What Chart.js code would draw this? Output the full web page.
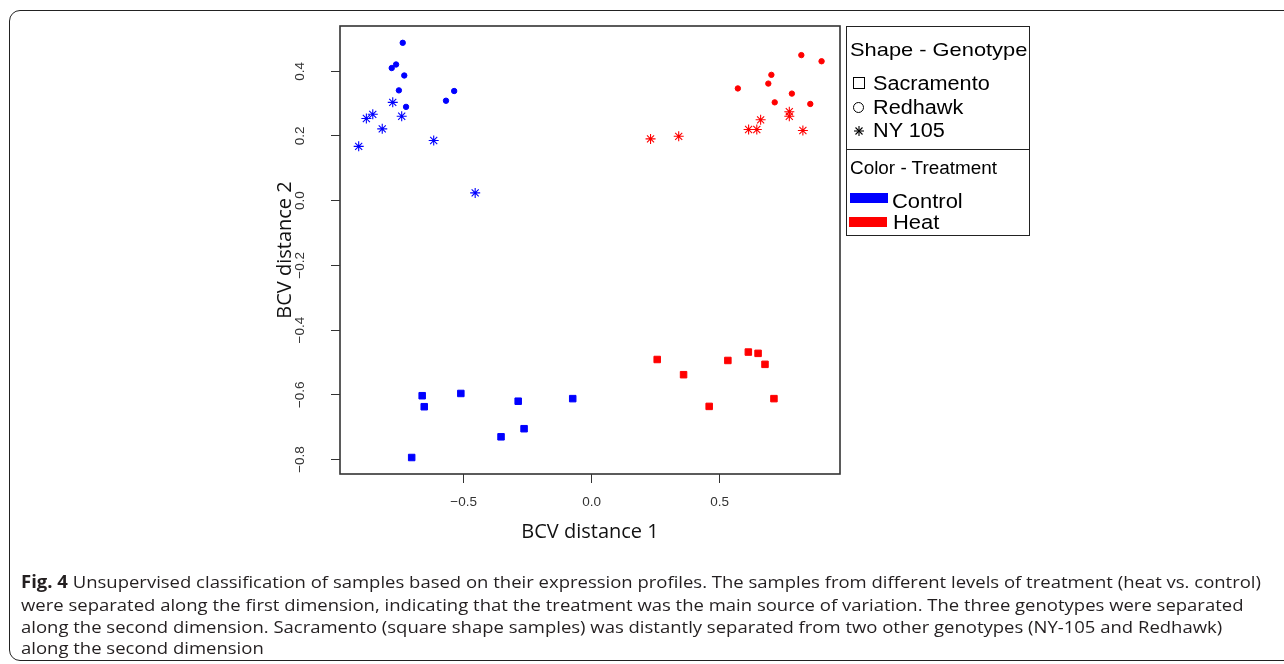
<!DOCTYPE html>
<html><head><meta charset="utf-8">
<script src="https://cdn.jsdelivr.net/npm/chart.js@4.4.1/dist/chart.umd.min.js"></script>
<style>
html,body{margin:0;padding:0;background:#fff;width:1284px;height:664px;overflow:hidden;position:relative;}
#frame{position:absolute;left:9px;top:10px;width:1300px;height:651px;border:1.6px solid #222;border-radius:11px;box-sizing:border-box;}
#c{position:absolute;left:0;top:0;}
.lg{position:absolute;font-family:'Liberation Sans',Arial,sans-serif;color:#000;white-space:nowrap;line-height:1;transform-origin:0 50%;}
#lbox{position:absolute;left:846px;top:26px;width:184px;height:210px;border:1.5px solid #222;box-sizing:border-box;}
#ldiv{position:absolute;left:846px;top:148.5px;width:184px;height:0;border-top:1.5px solid #222;}
.cap{position:absolute;left:21px;font-family:'Open Sans',sans-serif;font-size:17px;color:#231f20;white-space:nowrap;line-height:1;transform-origin:0 50%;}
</style>
</head>
<body>
<div id="frame"></div>
<canvas id="c" width="1284" height="664"></canvas>

<div id="lbox"></div>
<div id="ldiv"></div>
<div class="lg" style="left:850px;top:39.5px;font-size:19px;transform:scaleX(1.15)">Shape - Genotype</div>
<div style="position:absolute;left:852.5px;top:76.5px;width:12px;height:12px;border:1.3px solid #000;box-sizing:border-box"></div>
<div class="lg" style="left:873px;top:74px;font-size:19.5px;transform:scaleX(1.11)">Sacramento</div>
<div style="position:absolute;left:852.5px;top:102px;width:11px;height:11px;border:1.3px solid #000;border-radius:50%;box-sizing:border-box"></div>
<div class="lg" style="left:873px;top:97.5px;font-size:19.5px;transform:scaleX(1.11)">Redhawk</div>
<svg style="position:absolute;left:852.5px;top:125px" width="12" height="12" viewBox="0 0 12 12"><g stroke="#000" stroke-width="1.1"><line x1="6" y1="1" x2="6" y2="11"/><line x1="1" y1="6" x2="11" y2="6"/><line x1="2.5" y1="2.5" x2="9.5" y2="9.5"/><line x1="2.5" y1="9.5" x2="9.5" y2="2.5"/></g></svg>
<div class="lg" style="left:873px;top:121px;font-size:19.5px;transform:scaleX(1.11)">NY 105</div>
<div class="lg" style="left:850px;top:158.5px;font-size:18px;transform:scaleX(1.05)">Color - Treatment</div>
<div style="position:absolute;left:850px;top:193px;width:38px;height:10px;background:#0000ff"></div>
<div class="lg" style="left:892px;top:190.5px;font-size:20.5px;transform:scaleX(1.07)">Control</div>
<div style="position:absolute;left:849px;top:217px;width:38px;height:10px;background:#ff0000"></div>
<div class="lg" style="left:893px;top:211.5px;font-size:20.5px;transform:scaleX(1.07)">Heat</div>

<div class="cap" id="l1" style="top:573px"><b>Fig. 4</b> Unsupervised classification of samples based on their expression profiles. The samples from different levels of treatment (heat vs. control)</div>
<div class="cap" id="l2" style="top:596px">were separated along the first dimension, indicating that the treatment was the main source of variation. The three genotypes were separated</div>
<div class="cap" id="l3" style="top:618px">along the second dimension. Sacramento (square shape samples) was distantly separated from two other genotypes (NY-105 and Redhawk)</div>
<div class="cap" id="l4" style="top:639px">along the second dimension</div>

<script>
// ---- data ----
const sacramentoControl = [[-0.662,-0.603],[-0.654,-0.637],[-0.511,-0.596],[-0.287,-0.620],[-0.074,-0.612],[-0.264,-0.705],[-0.354,-0.730],[-0.703,-0.794]];
const redhawkControl = [[-0.738,0.488],[-0.764,0.421],[-0.781,0.410],[-0.732,0.387],[-0.753,0.341],[-0.537,0.339],[-0.569,0.309],[-0.725,0.290]];
const ny105Control = [[-0.777,0.304],[-0.855,0.267],[-0.880,0.254],[-0.742,0.261],[-0.818,0.222],[-0.910,0.168],[-0.617,0.186],[-0.455,0.024]];
const sacramentoHeat = [[0.256,-0.491],[0.359,-0.538],[0.459,-0.636],[0.532,-0.494],[0.612,-0.468],[0.650,-0.472],[0.677,-0.506],[0.712,-0.612]];
const redhawkHeat = [[0.819,0.450],[0.898,0.431],[0.702,0.389],[0.690,0.362],[0.571,0.347],[0.782,0.331],[0.715,0.304],[0.854,0.299]];
const ny105Heat = [[0.772,0.275],[0.772,0.261],[0.660,0.250],[0.613,0.220],[0.645,0.220],[0.825,0.217],[0.230,0.191],[0.340,0.199]];

const xRange = [-0.983, 0.970];
const yRange = [-0.845, 0.540];
const xTicks = [-0.5, 0, 0.5];
const xTickLabels = ['\u22120.5', '0.0', '0.5'];
const yTicks = [-0.8, -0.6, -0.4, -0.2, 0, 0.2, 0.4];
const yTickLabels = ['\u22120.8', '\u22120.6', '\u22120.4', '\u22120.2', '0.0', '0.2', '0.4'];
const xTitle = 'BCV distance 1';
const yTitle = 'BCV distance 2';

const CONTROL = '#0000ff', HEAT = '#ff0000';
const toPts = a => a.map(([x, y]) => ({x, y}));
function ds(label, data, color, style, r, bw) {
  return {label, data: toPts(data), pointStyle: style, pointRadius: r, pointBackgroundColor: color,
          pointBorderColor: color, pointBorderWidth: bw, showLine: false};
}

const boxPlugin = {
  id: 'plotBox',
  afterDraw(chart) {
    const {ctx, chartArea: a} = chart;
    ctx.save();
    ctx.strokeStyle = '#333';
    ctx.lineWidth = 1.6;
    ctx.strokeRect(a.left, a.top, a.right - a.left, a.bottom - a.top);
    ctx.restore();
  }
};

Chart.defaults.font.family = "'Liberation Sans', Arial, sans-serif";

function start() {
  new Chart(document.getElementById('c'), {
    type: 'scatter',
    data: {datasets: [
      ds('Sacramento Control', sacramentoControl, CONTROL, 'rect', 4.6, 1),
      ds('Redhawk Control', redhawkControl, CONTROL, 'circle', 2.7, 1),
      ds('NY 105 Control', ny105Control, CONTROL, 'star', 5, 1.1),
      ds('Sacramento Heat', sacramentoHeat, HEAT, 'rect', 4.6, 1),
      ds('Redhawk Heat', redhawkHeat, HEAT, 'circle', 2.7, 1),
      ds('NY 105 Heat', ny105Heat, HEAT, 'star', 5, 1.1)
    ]},
    options: {
      responsive: false, animation: false, events: [], devicePixelRatio: 1,
      layout: {padding: {left: 0, top: 26, right: 444, bottom: 0}},
      plugins: {legend: {display: false}, tooltip: {enabled: false}},
      scales: {
        x: {
          type: 'linear', position: 'bottom', min: xRange[0], max: xRange[1],
          afterBuildTicks: s => { s.ticks = xTicks.map(v => ({value: v})); },
          afterFit: s => { s.height = 190; },
          grid: {drawOnChartArea: false, drawTicks: true, tickLength: 9, color: '#333', lineWidth: 1},
          border: {display: false},
          ticks: {callback: v => xTickLabels[xTicks.indexOf(v)], font: {size: 13.5}, color: '#333',
                  padding: 11, maxRotation: 0, minRotation: 0, autoSkip: false},
          title: {display: true, text: xTitle, font: {family: "'Open Sans', sans-serif", size: 20}, color: '#111',
                  padding: {top: 0, bottom: 120}}
        },
        y: {
          type: 'linear', position: 'left', min: yRange[0], max: yRange[1],
          afterBuildTicks: s => { s.ticks = yTicks.map(v => ({value: v})); },
          afterFit: s => { s.width = 340; },
          grid: {drawOnChartArea: false, drawTicks: true, tickLength: 9, color: '#333', lineWidth: 1},
          border: {display: false},
          ticks: {callback: v => yTickLabels[yTicks.indexOf(v)], font: {size: 13.5}, color: '#333',
                  padding: 17, minRotation: 90, maxRotation: 90, crossAlign: 'center', autoSkip: false},
          title: {display: true, text: yTitle, font: {family: "'Open Sans', sans-serif", size: 20}, color: '#111',
                  padding: {top: 273, bottom: 0}}
        }
      }
    },
    plugins: [boxPlugin]
  });

  const l1 = document.getElementById('l1');
  const s = 1240 / l1.getBoundingClientRect().width;
  ['l1', 'l2', 'l3', 'l4'].forEach(id => {
    document.getElementById(id).style.transform = 'scaleX(' + s.toFixed(4) + ')';
  });
}
if (document.fonts && document.fonts.ready) document.fonts.ready.then(start); else start();
</script>
</body></html>
